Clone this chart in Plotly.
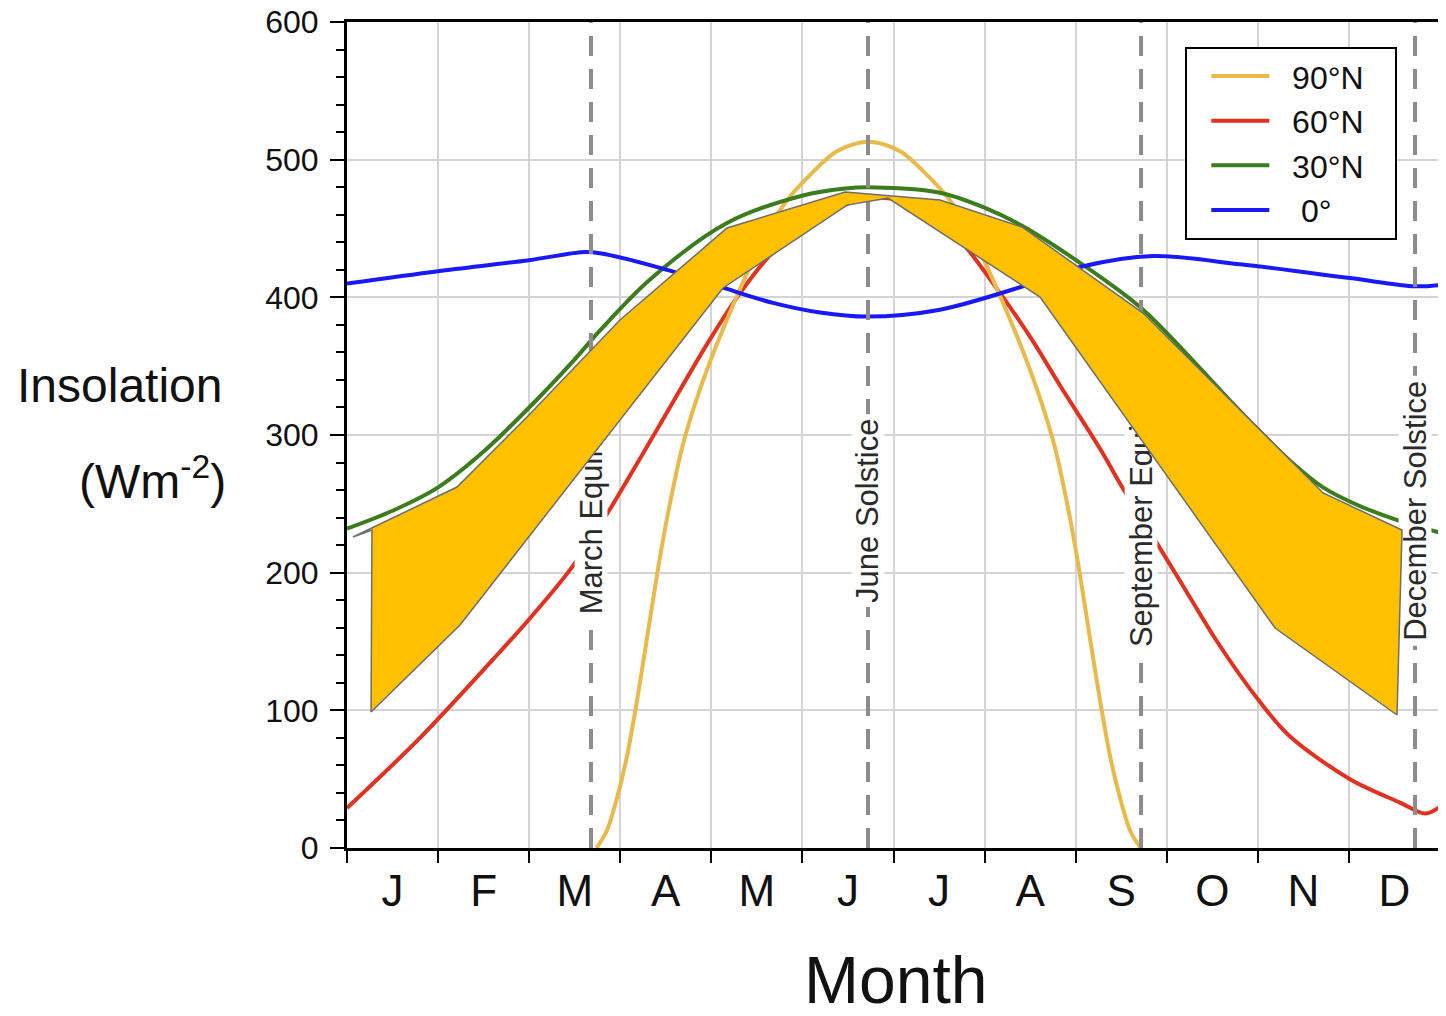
import plotly.graph_objects as go

# ---------------- data ----------------
MONTH_LABELS = ["J", "F", "M", "A", "M", "J", "J", "A", "S", "O", "N", "D"]
MONTH_EDGES = list(range(13))

# x in months since 1 January, y in W m-2
LAT90_X = [2.739, 2.849, 2.959, 3.069, 3.179, 3.288, 3.420, 3.530, 3.684, 3.859, 4.079, 4.408,
           4.628, 4.825, 5.012, 5.374, 5.726,
           6.077, 6.439, 6.626, 6.824, 7.043, 7.373, 7.592, 7.768, 7.922, 8.031, 8.163,
           8.273, 8.383, 8.493, 8.602, 8.712]
LAT90_Y = [0, 12, 35, 65, 105, 150, 205, 245, 292, 330, 369, 420,
           450, 470, 484, 506, 513,
           506, 484, 470, 450, 420, 369, 330, 292, 245, 205, 150,
           105, 65, 35, 12, 0]

LAT60_X = [0.000, 0.801, 1.603, 1.998, 2.448, 2.811, 3.404, 3.953, 4.315, 4.677, 5.084, 5.490,
           5.940, 6.292, 6.698, 7.170, 7.532, 7.828, 8.268, 8.521, 8.905, 9.146, 9.552, 10.024,
           10.354, 11.012, 11.561, 11.836, 12.000]
LAT60_Y = [29, 80, 137, 166, 202, 238, 304, 366, 403, 433, 456, 468,
           472, 466, 444, 403, 368, 336, 290, 261, 220, 194, 150, 106,
           81, 50, 33, 25, 30]

LAT30_X = [0.000, 0.500, 1.000, 1.500, 2.000, 2.500, 2.778, 3.327, 4.172, 5.007, 5.468, 5.720,
           6.511, 7.005, 7.411, 8.048, 8.740, 9.695, 10.002, 10.359, 10.716, 11.100, 11.539,
           12.000]
LAT30_Y = [232, 245, 262, 288, 320, 355, 376, 413, 454, 474, 479, 480,
           476, 465, 452, 425, 391, 325, 304, 281, 262, 249, 238,
           229]

LAT0_X = [0.000, 0.999, 1.998, 2.613, 2.778, 3.513, 4.128, 4.677, 5.193, 5.709, 6.511, 7.422,
          8.048, 8.849, 9.805, 11.012, 11.726, 12.000]
LAT0_Y = [410, 419, 427, 433, 432, 420, 407, 396, 389, 386, 391, 408,
          422, 430, 424, 414, 408, 409]

SERIES_NAMES = ["90°N", "60°N", "30°N", "0°"]

# highlighted band (orange arrows), outline vertices
BAND_X = [0.066, 1.208, 1.998, 2.997, 4.172, 5.468, 6.511, 7.411, 8.740, 9.695, 10.716, 11.583,
          11.528, 10.189, 7.609, 5.940, 5.490, 4.128, 1.241, 0.264, 0.274, 0.066]
BAND_Y = [225.9, 262.2, 314.5, 383.5, 450.4, 476.5, 470.7, 451.1, 388.6, 325.4, 257.9, 231.0,
          96.6, 159.8, 400.2, 472.1, 467.0, 406.8, 162.0, 98.8, 231.0, 225.9]

EVENT_X = [2.679, 5.720, 8.718, 11.726]
EVENT_NAMES = ["March Equinox", "June Solstice", "September Equinox", "December Solstice"]

# ---------------- styling ----------------
FONT = "Liberation Sans, Arial, Helvetica, sans-serif"
COLORS = ["#E9B949", "#E2321F", "#3B7D1C", "#1919F5"]
GRID = "#d4d4d4"
NB = "\u00a0"
LEGEND_PAD = [NB * 2, NB * 2, NB * 2, NB * 3]

fig = go.Figure()

series = [
    (LAT90_X, LAT90_Y, 0),
    (LAT60_X, LAT60_Y, 1),
    (LAT30_X, LAT30_Y, 2),
    (LAT0_X, LAT0_Y, 3),
]
for idx in [1, 0, 2, 3]:
    xs, ys, k = series[idx]
    fig.add_trace(go.Scatter(
        x=xs, y=ys, name=LEGEND_PAD[k] + SERIES_NAMES[k] + NB * 3, mode="lines",
        legendrank=k + 1,
        line=dict(color=COLORS[k], width=4, shape="spline", smoothing=0.9),
        hoverinfo="skip"))

# dashed event lines
dx, dy = [], []
for e in EVENT_X:
    dx += [e, e, None]
    dy += [0, 600, None]
fig.add_trace(go.Scatter(
    x=dx, y=dy, mode="lines", showlegend=False, hoverinfo="skip",
    line=dict(color="#8c8c8c", width=4, dash="20px,13px")))

# event labels with white background (overlay subplot, above the curves)
LABEL_CENTER = 245
half = [78, 70, 102, 98]
fig.add_trace(go.Bar(
    x=EVENT_X, base=[LABEL_CENTER - h for h in half], y=[2 * h for h in half],
    width=0.36, xaxis="x2", yaxis="y2",
    marker=dict(color="white", line=dict(width=0)),
    text=EVENT_NAMES, textposition="inside", insidetextanchor="middle",
    textangle=-90, constraintext="none",
    insidetextfont=dict(size=31, color="#2a2a2a", family=FONT),
    showlegend=False, hoverinfo="skip"))

# orange band on top
fig.add_trace(go.Scatter(
    x=BAND_X, y=BAND_Y, mode="lines", fill="toself", fillcolor="#FFC000",
    line=dict(color="#6d6d6d", width=1.5), xaxis="x2", yaxis="y2",
    showlegend=False, hoverinfo="skip"))

fig.update_layout(
    width=1438, height=1008,
    margin=dict(l=339, r=6, t=14, b=168),
    paper_bgcolor="white", plot_bgcolor="white",
    barmode="overlay",
    font=dict(family=FONT, color="#111"),
    xaxis=dict(
        range=[0, 12], tickmode="array",
        tickvals=[i + 0.5 for i in range(12)], ticktext=MONTH_LABELS,
        ticks="", showgrid=False, zeroline=False, automargin=False,
        tickfont=dict(size=44, family=FONT, color="#111"),
        ticklabelstandoff=2, ticklabeloverflow="allow",
        showline=True, linecolor="black", linewidth=3, mirror=True,
        minor=dict(tickmode="array", tickvals=MONTH_EDGES, ticks="outside", ticklen=12,
                   tickwidth=2, tickcolor="black", showgrid=True,
                   gridcolor=GRID, gridwidth=2),
    ),
    yaxis=dict(
        range=[0, 600], tickmode="linear", tick0=0, dtick=100,
        ticks="outside", ticklen=14, tickwidth=2, tickcolor="black",
        tickfont=dict(size=32, family=FONT, color="#111"),
        ticklabelstandoff=5, ticklabeloverflow="allow", automargin=False,
        showgrid=True, gridcolor=GRID, gridwidth=2, zeroline=False,
        showline=True, linecolor="black", linewidth=3, mirror=True,
        minor=dict(dtick=20, ticks="outside", ticklen=8, tickwidth=2,
                   tickcolor="black", showgrid=False),
    ),
    xaxis2=dict(range=[0, 12], overlaying="x", anchor="y2", visible=False, automargin=False),
    yaxis2=dict(range=[0, 600], overlaying="y", anchor="x2", visible=False, automargin=False),
    legend=dict(
        x=0.767, y=0.97, xanchor="left", yanchor="top",
        bgcolor="white", bordercolor="black", borderwidth=2,
        font=dict(size=32, family=FONT, color="#111"),
        itemwidth=58, indentation=19, traceorder="normal",
    ),
    annotations=[
        dict(text="Insolation", xref="paper", yref="paper", x=-0.2077, y=0.5605,
             xanchor="center", yanchor="middle", showarrow=False,
             font=dict(size=48, family=FONT, color="#111")),
        dict(text="(Wm<sup>-2</sup>)", xref="paper", yref="paper", x=-0.178, y=0.448,
             xanchor="center", yanchor="middle", showarrow=False,
             font=dict(size=48, family=FONT, color="#111")),
        dict(text="Month", xref="paper", yref="paper", x=0.5014, y=-0.160,
             xanchor="center", yanchor="middle", showarrow=False,
             font=dict(size=66, family=FONT, color="#111")),
    ],
)

fig.write_html("out.html")
